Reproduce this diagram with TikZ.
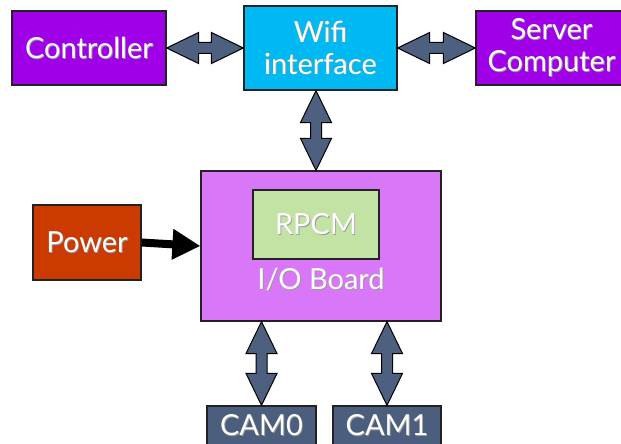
\documentclass[tikz,border=0pt]{standalone}
\usepackage{fontspec}
\setmainfont{Lato}
\usetikzlibrary{calc,arrows.meta}
\definecolor{ctrlpurple}{HTML}{A000E8}
\definecolor{wificyan}{HTML}{00B9F2}
\definecolor{iopink}{HTML}{D977F9}
\definecolor{rpcmgreen}{HTML}{C3E3A5}
\definecolor{powerred}{HTML}{CB3A00}
\definecolor{camslate}{HTML}{4B5E7D}
\definecolor{arrowslate}{HTML}{4E6080}
\definecolor{edgegray}{HTML}{222222}
\newcommand\shadowtxt[1]{\leavevmode\rlap{\kern0.9pt\raisebox{-0.9pt}{\textcolor{black!40}{#1}}}#1}
\newcommand\fatdbl[2]{%
 \draw[fatarrow] (#1)
  -- ($ ($(#1)!32pt!(#2)$)!15.5pt!90:(#2) $)
  -- ($ ($(#1)!32pt!(#2)$)!5.5pt!90:(#2) $)
  -- ($ ($(#2)!32pt!(#1)$)!5.5pt!-90:(#1) $)
  -- ($ ($(#2)!32pt!(#1)$)!15.5pt!-90:(#1) $)
  -- (#2)
  -- ($ ($(#2)!32pt!(#1)$)!15.5pt!90:(#1) $)
  -- ($ ($(#2)!32pt!(#1)$)!5.5pt!90:(#1) $)
  -- ($ ($(#1)!32pt!(#2)$)!5.5pt!-90:(#2) $)
  -- ($ ($(#1)!32pt!(#2)$)!15.5pt!-90:(#2) $)
  -- cycle;}
\begin{document}
\begin{tikzpicture}[x=1pt,y=-1pt,
  box/.style={draw=edgegray, line width=1.2pt, rectangle, inner sep=0pt, text=white,
    align=center, font=\fontsize{29}{32}\selectfont},
  plainlabel/.style={inner sep=0pt, text=white, font=\fontsize{29}{32}\selectfont},
  fatarrow/.style={draw=black, line width=1pt, fill=arrowslate, line join=miter},
  powerarrow/.style={draw=black, line width=8pt, -{Triangle[length=28pt,width=29pt]}}]
\useasboundingbox (0,0) rectangle (621,444);
\clip (0,0) rectangle (621,444);
\fill[white] (0,0) rectangle (621,444);
% top row
\node[box, fill=ctrlpurple, minimum width=154pt, minimum height=74pt] (ctrl) at (89,48) {\shadowtxt{Controller}};
\node[box, fill=wificyan, minimum width=153pt, minimum height=84pt] (wifi) at (320.5,48) {\shadowtxt{Wifi}\\\shadowtxt{interface}};
\node[box, fill=ctrlpurple, minimum width=151pt, minimum height=74pt] (server) at (551.5,48) {\shadowtxt{Server}\\\shadowtxt{Computer}};
% I/O board
\node[box, fill=iopink, minimum width=240pt, minimum height=150pt] (io) at (321,246) {};
\node[box, fill=rpcmgreen, minimum width=126pt, minimum height=69pt] (rpcm) at (316,224.5) {\shadowtxt{RPCM}};
\node[plainlabel] (iolabel) at (321,280) {\shadowtxt{I/O Board}};
% power
\node[box, fill=powerred, minimum width=108pt, minimum height=75pt] (power) at (87,242.5) {\shadowtxt{Power}};
% cameras (cut by the lower edge of the picture)
\node[box, fill=camslate, minimum width=109pt, minimum height=40pt] (cam0) at (261.5,426) {\raisebox{-3pt}{\shadowtxt{CAM0}}};
\node[box, fill=camslate, minimum width=108pt, minimum height=40pt] (cam1) at (387,426) {\raisebox{-3pt}{\shadowtxt{CAM1}}};
% connector end points
\coordinate (wifibot) at (wifi.south -| rpcm);
\coordinate (iotop) at (io.north -| rpcm);
\coordinate (iobot0) at (io.south -| cam0);
\coordinate (iobot1) at (io.south -| cam1);
% connectors
\fatdbl{ctrl.east}{wifi.west}
\fatdbl{wifi.east}{server.west}
\fatdbl{wifibot}{iotop}
\fatdbl{iobot0}{cam0.north}
\fatdbl{iobot1}{cam1.north}
\draw[powerarrow] (power.east) -- (io.west);
\end{tikzpicture}
\end{document}
